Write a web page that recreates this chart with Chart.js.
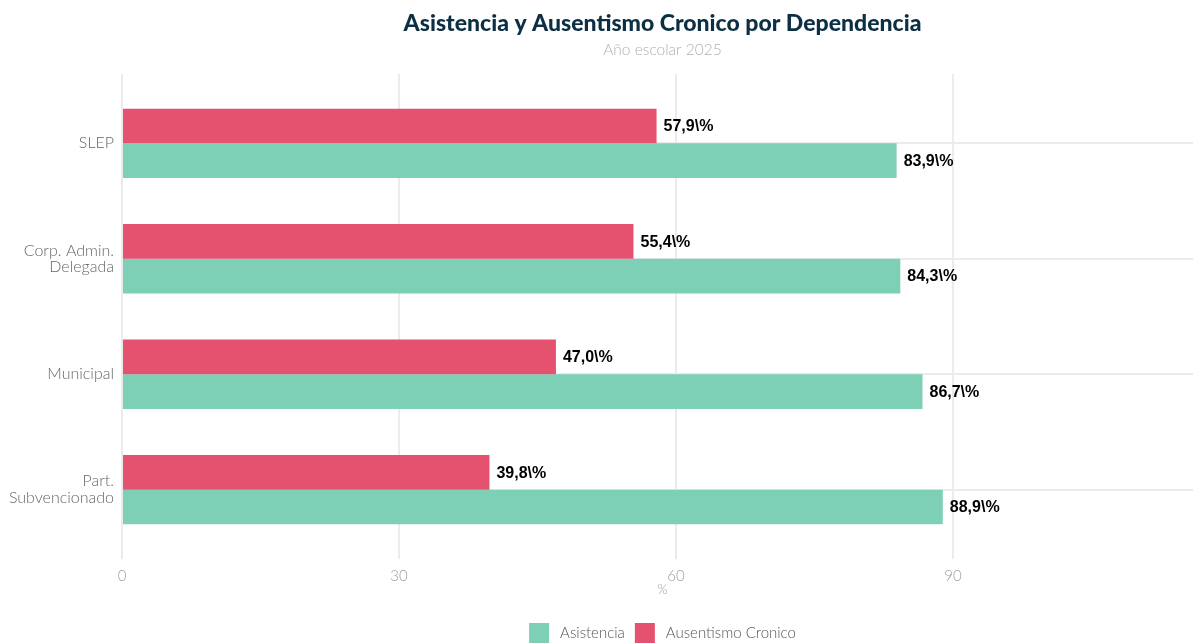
<!DOCTYPE html>
<html>
<head>
<meta charset="utf-8">
<script src="https://cdn.jsdelivr.net/npm/chart.js@4"></script>
<style>
html,body{margin:0;padding:0;background:#fff;}
#wrap{width:1193px;height:643px;}
</style>
</head>
<body>
<div id="wrap"><canvas id="c" width="1193" height="643"></canvas></div>
<script>
const CATEGORIES = ["SLEP", ["Corp. Admin.", "Delegada"], "Municipal", ["Part.", "Subvencionado"]];
const ASISTENCIA = [83.9, 84.3, 86.7, 88.9];
const AUSENTISMO = [57.9, 55.4, 47.0, 39.8];
const X_TICKS = [0, 30, 60, 90];
const TITLE = "Asistencia y Ausentismo Cronico por Dependencia";
const SUBTITLE = "Año escolar 2025";
const X_TITLE = "%";
const SERIES_NAMES = ["Asistencia", "Ausentismo Cronico"];

const GREEN = "#7dcfb6";
const RED = "#e5526f";
const FONT = "Lato";

const toPoints = arr => arr.map((v, i) => ({ x: v, y: i + 1 }));

const overlay = {
  id: 'overlay',
  afterDatasetsDraw(chart) {
    const ctx = chart.ctx;
    ctx.save();
    ctx.font = "bold 16px 'Liberation Sans', Arial, sans-serif";
    ctx.fillStyle = "#000";
    ctx.textAlign = "left";
    ctx.textBaseline = "middle";
    chart.data.datasets.forEach((ds, di) => {
      const meta = chart.getDatasetMeta(di);
      meta.data.forEach((el, i) => {
        const v = ds.data[i].x;
        const txt = v.toFixed(1).replace('.', ',') + "\\%";
        ctx.fillText(txt, el.x + 7, el.y + 1);
      });
    });
    ctx.restore();
  },
  afterDraw(chart) {
    const ctx = chart.ctx;
    const ca = chart.chartArea;
    const cx = (ca.left + ca.right) / 2 + 5;
    ctx.save();
    ctx.textAlign = "center";
    ctx.textBaseline = "middle";
    ctx.fillStyle = "#0d2f44";
    ctx.font = `900 23px ${FONT}`;
    ctx.fillText(TITLE, cx, 24);
    ctx.fillStyle = "#b0b0b0";
    ctx.font = `300 15.5px ${FONT}`;
    ctx.fillText(SUBTITLE, cx, 50);
    ctx.fillStyle = "#a0a0a0";
    ctx.font = `300 13px ${FONT}`;
    ctx.fillText(X_TITLE, cx, 590);

    // legend
    ctx.font = `300 15px ${FONT}`;
    ctx.textAlign = "left";
    const items = [{ name: SERIES_NAMES[0], color: GREEN }, { name: SERIES_NAMES[1], color: RED }];
    const box = 20, gapBoxText = 11, gapItems = 10;
    let total = 0;
    items.forEach((it, k) => {
      it.w = ctx.measureText(it.name).width;
      total += box + gapBoxText + it.w + (k < items.length - 1 ? gapItems : 0);
    });
    let x = cx - total / 2;
    const yTop = 623;
    items.forEach(it => {
      ctx.fillStyle = it.color;
      ctx.fillRect(x, yTop, box, box);
      x += box + gapBoxText;
      ctx.fillStyle = "#555";
      ctx.fillText(it.name, x, yTop + 10);
      x += it.w + gapItems;
    });
    ctx.restore();
  }
};

new Chart(document.getElementById('c'), {
  type: 'bar',
  data: {
    datasets: [
      { label: SERIES_NAMES[1], data: toPoints(AUSENTISMO), backgroundColor: RED, borderWidth: 0 },
      { label: SERIES_NAMES[0], data: toPoints(ASISTENCIA), backgroundColor: GREEN, borderWidth: 0 }
    ]
  },
  options: {
    indexAxis: 'y',
    responsive: false,
    animation: false,
    devicePixelRatio: 1,
    categoryPercentage: 0.6,
    barPercentage: 1.0,
    layout: { padding: { top: 74, left: 0, right: 0, bottom: 0 } },
    plugins: {
      legend: { display: false },
      title: { display: false },
      tooltip: { enabled: false }
    },
    scales: {
      x: {
        type: 'linear',
        min: 0,
        max: 116,
        offset: false,
        afterBuildTicks: s => { s.ticks = X_TICKS.map(v => ({ value: v })); },
        afterFit: s => { s.height = 84; },
        grid: { color: "#ebebeb", lineWidth: 2, drawTicks: false, offset: false },
        border: { display: false },
        ticks: { color: "#a0a0a0", font: { family: FONT, size: 15, weight: 300 }, padding: 8 }
      },
      y: {
        type: 'linear',
        reverse: true,
        min: 0.4,
        max: 4.6,
        offset: false,
        afterBuildTicks: s => { s.ticks = CATEGORIES.map((c, i) => ({ value: i + 1 })); },
        afterFit: s => { s.width = 122; },
        grid: { color: "#ebebeb", lineWidth: 2, drawTicks: false, offset: false },
        border: { display: false },
        ticks: {
          color: "#666",
          font: { family: FONT, size: 16, weight: 300, lineHeight: 1.05 },
          padding: 8,
          callback: (v) => CATEGORIES[Math.round(v) - 1]
        }
      }
    }
  },
  plugins: [overlay]
});
</script>
</body>
</html>
